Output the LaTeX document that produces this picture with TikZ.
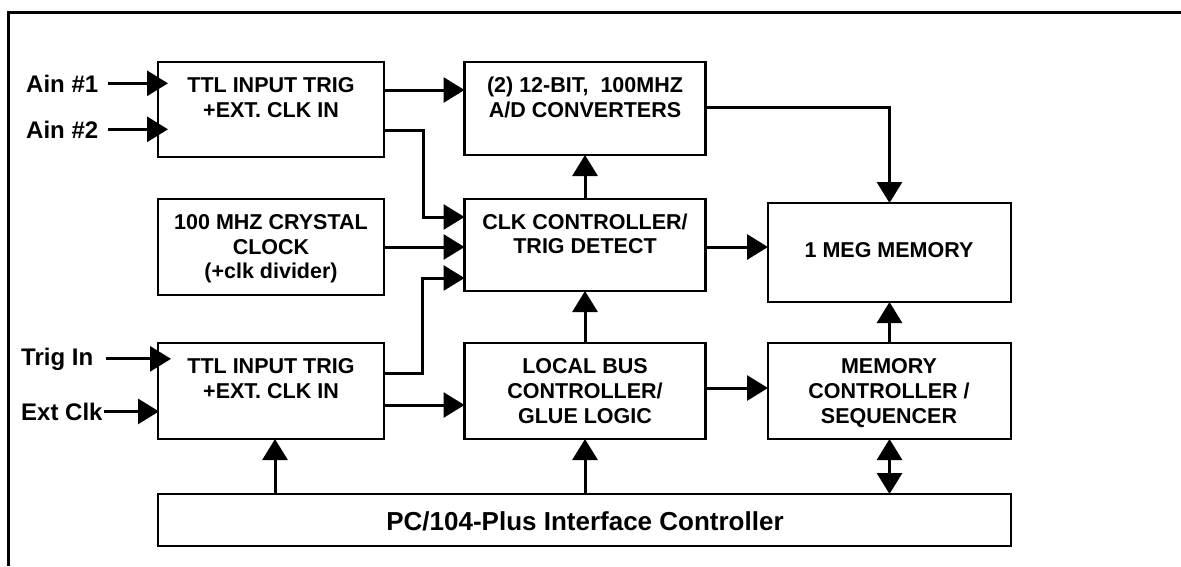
\documentclass[tikz,border=0pt]{standalone}
\usepackage{fontspec}
\setmainfont{Liberation Sans}
\usetikzlibrary{arrows.meta,calc}
\newcommand\bxfont{\bfseries\fontsize{21.5}{25}\selectfont}
\newcommand\sdfont{\bfseries\fontsize{24}{28}\selectfont}
\newcommand\pcfont{\bfseries\fontsize{26}{30}\selectfont}
\begin{document}
\begin{tikzpicture}[x=1pt,y=-1pt,
  box/.style={draw,line width=2.2pt,inner sep=0pt,outer sep=0pt},
  ln/.style={font=\bxfont,inner sep=0pt,anchor=base},
  side/.style={font=\sdfont,inner sep=0pt,anchor=base west},
  arr/.style={line width=3pt,-{Triangle[length=21pt,width=25pt]}},
  darr/.style={line width=3pt,{Triangle[length=21pt,width=25pt]}-{Triangle[length=21pt,width=25pt]}}]
\useasboundingbox (0,0) rectangle (1181,566);
\draw[line width=3pt] (1181,12) -- (8,12) -- (8,566);

% boxes
\node[box,minimum width=226pt,minimum height=95pt] (ttlA) at (271,109.5) {};
\node[box,minimum width=226pt,minimum height=96pt] (xtal) at (271,247) {};
\node[box,minimum width=226pt,minimum height=96pt] (ttlB) at (271,391) {};
\node[box,minimum width=241pt,minimum height=93pt] (adc) at (585,108.5) {};
\node[box,minimum width=241pt,minimum height=92pt] (clk) at (585,245) {};
\node[box,minimum width=241pt,minimum height=96pt] (bus) at (585,391) {};
\node[box,minimum width=243pt,minimum height=99pt] (mem) at (889.5,252.5) {};
\node[box,minimum width=243pt,minimum height=96pt] (mctl) at (889.5,391) {};
\node[box,minimum width=853pt,minimum height=52pt] (pc) at (584.5,520) {};

% box texts
\node[ln] (tA1) at (271,92) {TTL INPUT TRIG};
\node[ln] (tA2) at (271,117) {+EXT. CLK IN};
\node[ln] (x1) at (271,229) {100 MHZ CRYSTAL};
\node[ln] (x2) at (271,254) {CLOCK};
\node[ln] (x3) at (271,278) {(+clk divider)};
\node[ln] (tB1) at (271,373) {TTL INPUT TRIG};
\node[ln] (tB2) at (271,398) {+EXT. CLK IN};
\node[ln] (a1) at (585,92) {(2) 12-BIT,\ \ 100MHZ};
\node[ln] (a2) at (585,117) {A/D CONVERTERS};
\node[ln] (c1) at (585,229) {CLK CONTROLLER/};
\node[ln] (c2) at (585,253) {TRIG DETECT};
\node[ln] (b1) at (585,373) {LOCAL BUS};
\node[ln] (b2) at (585,398) {CONTROLLER/};
\node[ln] (b3) at (585,423) {GLUE LOGIC};
\node[ln] (m1) at (889,257) {1 MEG MEMORY};
\node[ln] (mc1) at (889,373) {MEMORY};
\node[ln] (mc2) at (889,398) {CONTROLLER /};
\node[ln] (mc3) at (889,423) {SEQUENCER};
\node[font=\pcfont,inner sep=0pt,anchor=base] (pct) at (585,530) {PC/104-Plus Interface Controller};

% side labels
\node[side] (ain1) at (26,92) {Ain \#1};
\node[side] (ain2) at (26,138) {Ain \#2};
\node[side] (trig) at (21,365) {Trig In};
\node[side] (ext) at (21,420) {Ext Clk};

% input arrows
\draw[arr] ([xshift=10pt]ain1.east) -- ([xshift=10pt]ain1.east -| ttlA.west);
\draw[arr] ([xshift=10pt]ain2.east) -- ([xshift=10pt]ain2.east -| ttlA.west);
\draw[arr] ([xshift=13pt]trig.east) -- ([xshift=13pt]trig.east -| ttlB.west);
\draw[arr] ([xshift=1pt]ext.east) -- ([xshift=1pt]ext.east -| ttlB.west);

% internal connectors
\draw[arr] ([yshift=-28pt]ttlA.north east) -- ([yshift=-28pt]adc.north west);
\draw[arr] ([yshift=-68pt]ttlA.north east) -- ++(39,0) |- ([yshift=-18pt]clk.north west);
\draw[arr] (xtal.east) -- (xtal.east -| clk.west);
\draw[arr] ([yshift=-30pt]ttlB.north east) -- ++(38,0) |- ([yshift=-79pt]clk.north west);
\draw[arr] ([yshift=-62pt]ttlB.north east) -- ([yshift=-62pt]bus.north west);
\draw[arr] ([yshift=1.5pt]adc.east) -| (mem.north);
\draw[arr] ([yshift=-2pt]clk.east) -- ([yshift=-2pt]clk.east -| mem.west);
\draw[arr] (clk.north) -- (adc.south);
\draw[arr] (bus.north) -- (clk.south);
\draw[arr] ([yshift=3pt]bus.east) -- ([yshift=3pt]bus.east -| mctl.west);
\draw[arr] (mctl.north) -- (mem.south);
\draw[arr] ([xshift=4pt]pc.north -| ttlB.south) -- ([xshift=4pt]ttlB.south);
\draw[arr] (pc.north -| bus.south) -- (bus.south);
\draw[darr] (pc.north -| mctl.south) -- (mctl.south);
\end{tikzpicture}
\end{document}
